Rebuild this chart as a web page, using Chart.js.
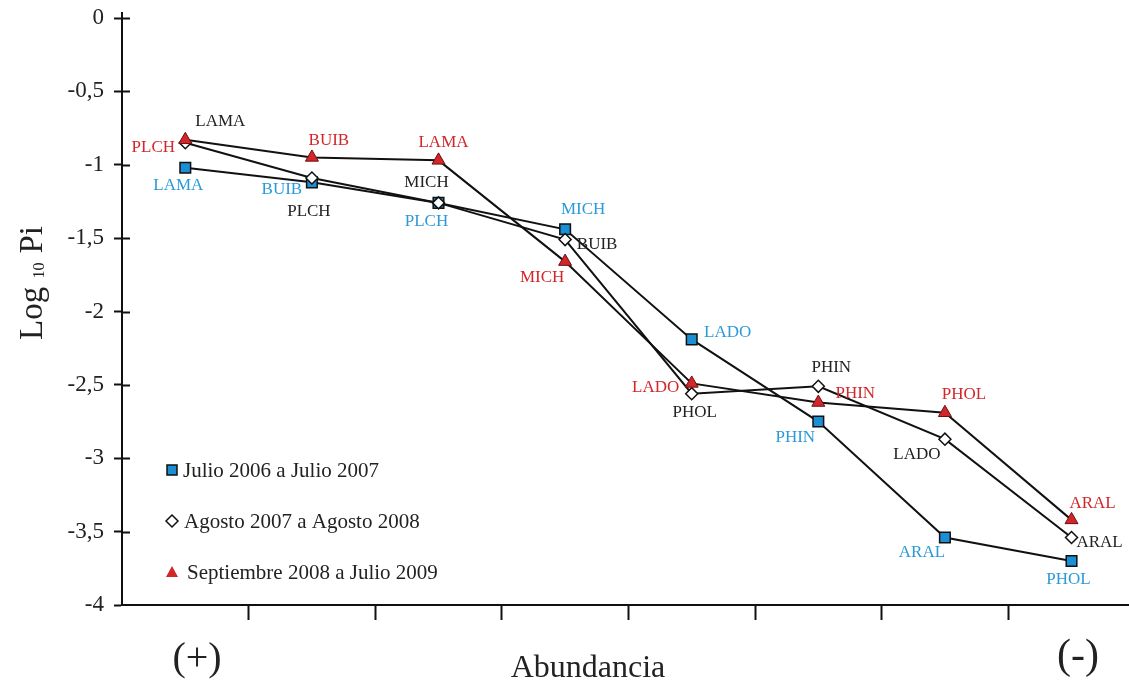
<!DOCTYPE html>
<html>
<head>
<meta charset="utf-8">
<script src="https://cdn.jsdelivr.net/npm/chart.js@4.4.0/dist/chart.umd.min.js"></script>
<style>
    html, body { margin: 0; padding: 0; background: #ffffff; }
    #wrap { width: 1129px; height: 684px; }
</style>
</head>
<body>
<div id="wrap"><canvas id="abundanciaChart" width="1129" height="684"></canvas></div>
<script>
// Rank positions on the abundance axis, (+) on the left to (-) on the right
const ranks = [1, 2, 3, 4, 5, 6, 7, 8];
const boundaryTicks = [1.5, 2.5, 3.5, 4.5, 5.5, 6.5, 7.5];

// Julio 2006 a Julio 2007
const julioNames = ['LAMA', 'BUIB', 'PLCH', 'MICH', 'LADO', 'PHIN', 'ARAL', 'PHOL'];
const julioValues = [-1.02, -1.12, -1.26, -1.44, -2.19, -2.75, -3.54, -3.70];

// Agosto 2007 a Agosto 2008
const agostoNames = ['LAMA', 'PLCH', 'MICH', 'BUIB', 'PHOL', 'PHIN', 'LADO', 'ARAL'];
const agostoValues = [-0.85, -1.09, -1.26, -1.51, -2.56, -2.51, -2.87, -3.54];

// Septiembre 2008 a Julio 2009
const septNames = ['PLCH', 'BUIB', 'LAMA', 'MICH', 'LADO', 'PHIN', 'PHOL', 'ARAL'];
const septValues = [-0.83, -0.95, -0.97, -1.66, -2.49, -2.62, -2.69, -3.42];

const seriesNames = ['Julio 2006 a Julio 2007', 'Agosto 2007 a Agosto 2008', 'Septiembre 2008 a Julio 2009'];

const BLUE = '#1a8fd3';
const BLUE_TEXT = '#2a9ad8';
const RED = '#d2262a';
const SERIF = '"Liberation Serif", "Times New Roman", serif';

function toPoints(values) {
    return values.map((v, i) => ({ x: ranks[i], y: v }));
}

// where each species name sits relative to its marker
const labelOffsets = [
    [[-7, 18], [-30, 7], [-12, 19], [18, -20], [36, -7], [-23, 16], [-23, 15], [-3, 19]],
    [[35, -21], [-3, 34], [-12, -20], [32, 5], [3, 19], [13, -19], [-28, 15], [28, 5]],
    [[-32, 8], [17, -17], [5, -18], [-23, 16], [-36, 4], [37, -9], [19, -18], [21, -16]]
];

const pointNamesPlugin = {
    id: 'pointNames',
    afterDatasetsDraw(chart) {
        const ctx = chart.ctx;
        ctx.save();
        ctx.font = '17px ' + SERIF;
        ctx.textAlign = 'center';
        ctx.textBaseline = 'middle';
        chart.data.datasets.forEach((ds, i) => {
            const meta = chart.getDatasetMeta(i);
            ctx.fillStyle = ds.nameColor;
            meta.data.forEach((pt, j) => {
                const off = labelOffsets[i][j];
                ctx.fillText(ds.names[j], pt.x + off[0], pt.y + off[1]);
            });
        });
        ctx.restore();
    }
};

function drawMarker(ctx, style, x, y, fill) {
    ctx.beginPath();
    if (style === 'rect') {
        ctx.rect(x - 5, y - 5, 10, 10);
    } else if (style === 'rectRot') {
        ctx.moveTo(x, y - 6); ctx.lineTo(x + 6, y); ctx.lineTo(x, y + 6); ctx.lineTo(x - 6, y);
        ctx.closePath();
    } else {
        ctx.moveTo(x, y - 6); ctx.lineTo(x + 6, y + 5); ctx.lineTo(x - 6, y + 5);
        ctx.closePath();
    }
    ctx.fillStyle = fill;
    ctx.fill();
    if (style !== 'triangle') {
        ctx.lineWidth = 1.5;
        ctx.strokeStyle = '#111';
        ctx.stroke();
    }
}

const decorPlugin = {
    id: 'decor',
    afterDraw(chart) {
        const ctx = chart.ctx;
        const area = chart.chartArea;
        const yScale = chart.scales.y;
        ctx.save();

        // y ticks cross the axis, and the axis pokes a little above 0
        ctx.strokeStyle = '#111';
        ctx.lineWidth = 2;
        ctx.beginPath();
        yScale.ticks.forEach(t => {
            if (t.value === -4) return;
            const py = Math.round(yScale.getPixelForValue(t.value)) + 0.5;
            ctx.moveTo(area.left, py);
            ctx.lineTo(area.left + 8, py);
        });
        ctx.moveTo(area.left, area.top);
        ctx.lineTo(area.left, area.top - 6);
        ctx.stroke();

        // legend inside the plot
        ctx.font = '21px ' + SERIF;
        ctx.textBaseline = 'middle';
        ctx.textAlign = 'left';
        const rows = [470, 521, 572];
        const styles = ['rect', 'rectRot', 'triangle'];
        const fills = [BLUE, '#ffffff', RED];
        const textX = [183, 184, 187];
        rows.forEach((ry, i) => {
            drawMarker(ctx, styles[i], 172, ry, fills[i]);
            ctx.fillStyle = '#222';
            ctx.fillText(seriesNames[i], textX[i], ry + 1);
        });

        // axis titles
        ctx.fillStyle = '#222';
        ctx.textBaseline = 'alphabetic';
        ctx.font = '32px ' + SERIF;
        ctx.textAlign = 'center';
        ctx.fillText('Abundancia', 588, 677);
        ctx.font = '40px ' + SERIF;
        ctx.fillText('(+)', 197, 670);
        ctx.font = '42px ' + SERIF;
        ctx.fillText('(-)', 1078, 668);

        // Log10 Pi, rotated, with subscript
        ctx.save();
        ctx.translate(42, 340);
        ctx.rotate(-Math.PI / 2);
        ctx.textAlign = 'left';
        ctx.font = '33px ' + SERIF;
        let cx = 0;
        ctx.fillText('Log', cx, 0);
        cx += ctx.measureText('Log ').width;
        ctx.font = '16px ' + SERIF;
        ctx.fillText('10', cx, 2);
        cx += ctx.measureText('10').width + 9;
        ctx.font = '33px ' + SERIF;
        ctx.fillText('Pi', cx, 0);
        ctx.restore();

        ctx.restore();
    }
};

const ctx = document.getElementById('abundanciaChart').getContext('2d');
const abundanciaChart = new Chart(ctx, {
    type: 'line',
    data: {
        datasets: [{
            label: seriesNames[0],
            data: toPoints(julioValues),
            names: julioNames,
            nameColor: BLUE_TEXT,
            borderColor: '#111',
            borderWidth: 2,
            pointStyle: 'rect',
            pointRadius: 7.5,
            pointBackgroundColor: BLUE,
            pointBorderColor: '#111',
            pointBorderWidth: 1.5,
            order: 2
        }, {
            label: seriesNames[1],
            data: toPoints(agostoValues),
            names: agostoNames,
            nameColor: '#222',
            borderColor: '#111',
            borderWidth: 2,
            pointStyle: 'rectRot',
            pointRadius: 6,
            pointBackgroundColor: '#ffffff',
            pointBorderColor: '#111',
            pointBorderWidth: 1.5,
            order: 1
        }, {
            label: seriesNames[2],
            data: toPoints(septValues),
            names: septNames,
            nameColor: RED,
            borderColor: '#111',
            borderWidth: 2,
            pointStyle: 'triangle',
            pointRadius: 7.5,
            pointBackgroundColor: RED,
            pointBorderColor: '#6a1010',
            pointBorderWidth: 1,
            order: 0
        }]
    },
    options: {
        responsive: false,
        animation: false,
        layout: { autoPadding: false, padding: { top: 18, right: 0, bottom: 0, left: 0 } },
        plugins: {
            legend: { display: false },
            tooltip: { enabled: false }
        },
        elements: { line: { tension: 0 } },
        datasets: { line: { clip: false } },
        scales: {
            x: {
                type: 'linear',
                min: 0.5,
                max: 8.454,
                afterBuildTicks: scale => {
                    scale.ticks = boundaryTicks.map(v => ({ value: v }));
                },
                afterFit: scale => {
                    scale.height = 79;
                    scale.paddingLeft = 0;
                    scale.paddingRight = 0;
                },
                ticks: { display: false },
                grid: {
                    drawOnChartArea: false,
                    drawTicks: true,
                    tickLength: 15,
                    tickWidth: 2,
                    tickColor: '#111'
                },
                border: { display: true, color: '#111', width: 2 }
            },
            y: {
                type: 'linear',
                min: -4,
                max: 0,
                afterFit: scale => {
                    scale.width = 122;
                    scale.paddingTop = 0;
                    scale.paddingBottom = 0;
                },
                ticks: {
                    stepSize: 0.5,
                    padding: 10,
                    color: '#222',
                    font: { family: SERIF, size: 23 },
                    callback: v => String(v).replace('.', ',')
                },
                grid: {
                    drawOnChartArea: false,
                    drawTicks: true,
                    tickLength: 8,
                    tickWidth: 2,
                    tickColor: '#111'
                },
                border: { display: true, color: '#111', width: 2 }
            }
        }
    },
    plugins: [pointNamesPlugin, decorPlugin]
});
</script>
</body>
</html>
